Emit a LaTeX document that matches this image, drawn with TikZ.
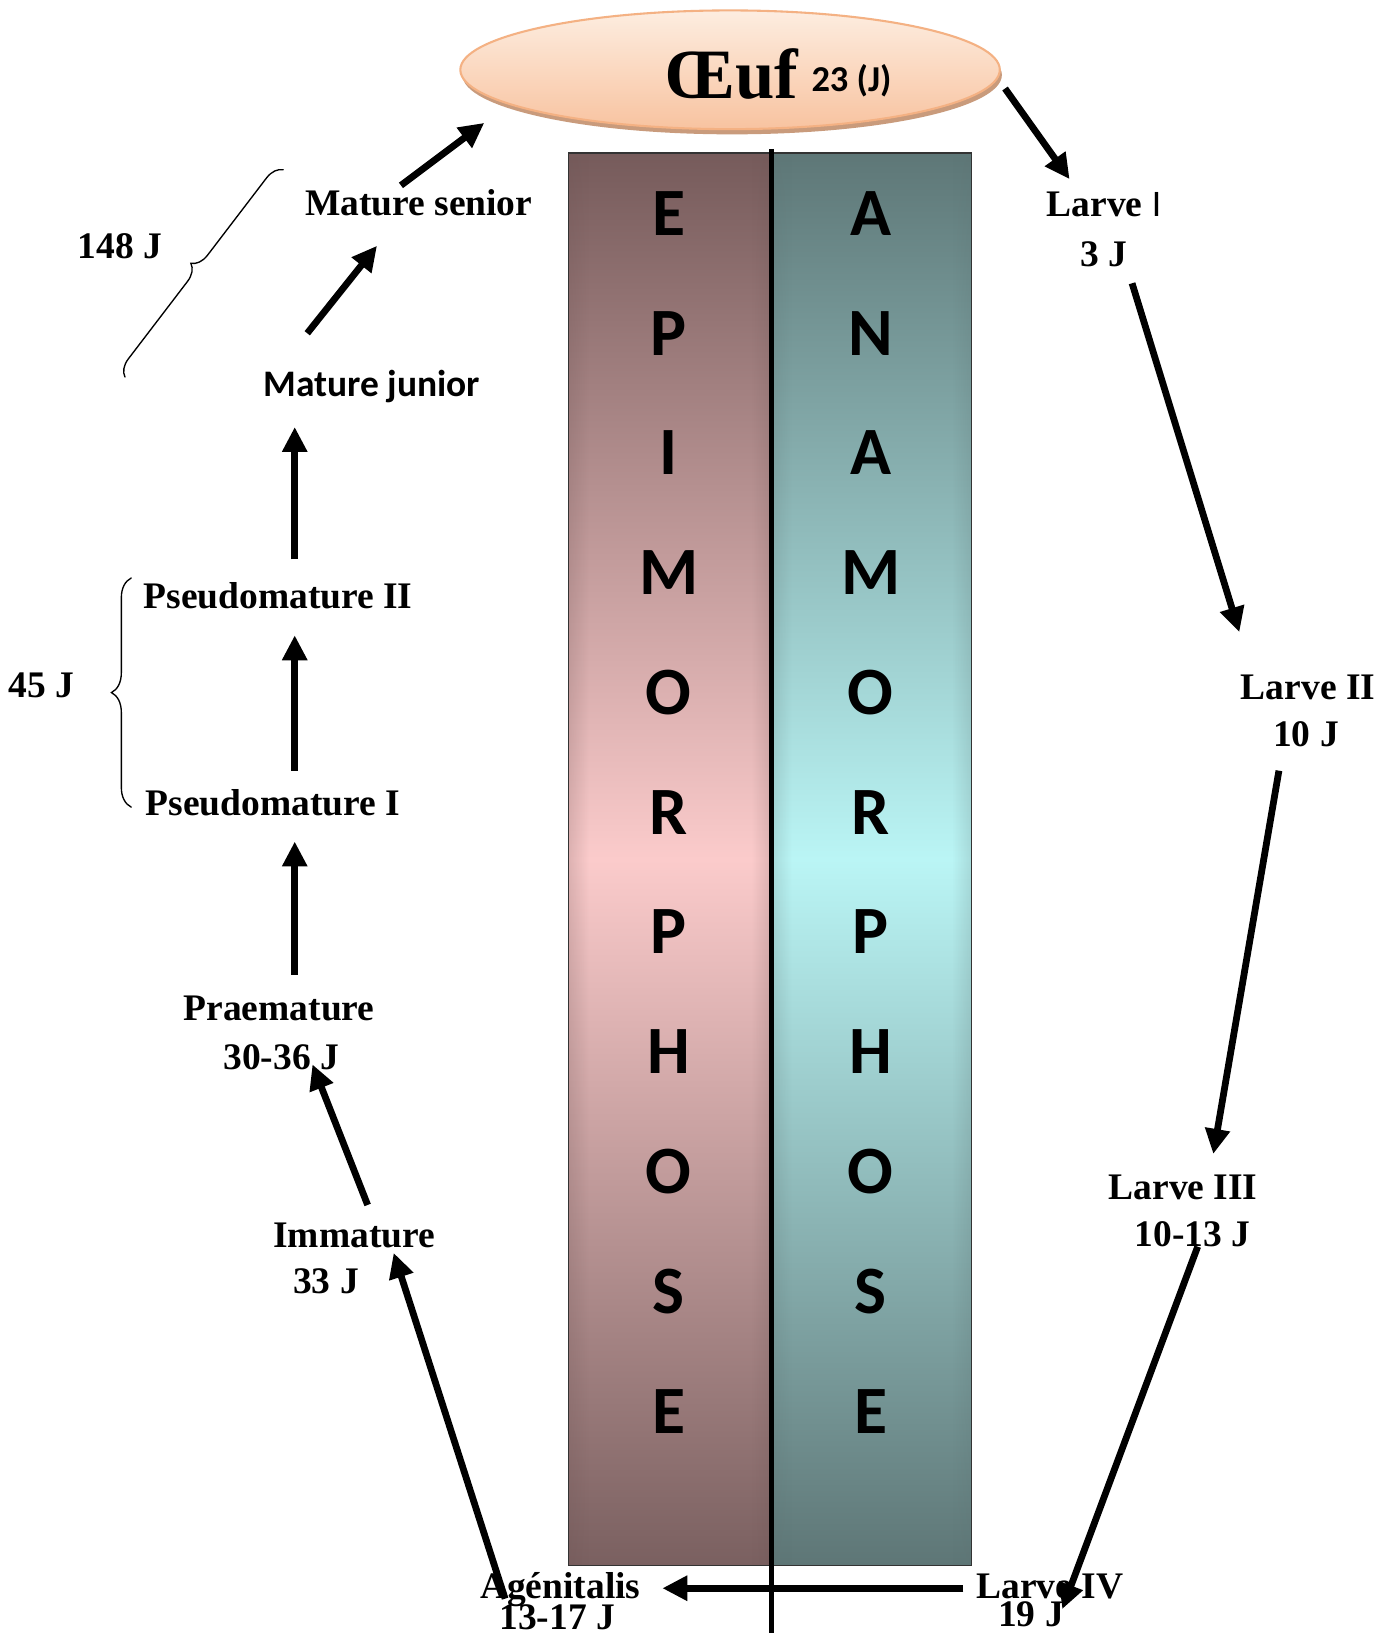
\documentclass[tikz,border=0pt]{standalone}
\usepackage{fontspec}
\setmainfont{Liberation Serif}
\newfontfamily\calfont{Carlito}
\usetikzlibrary{arrows.meta,decorations.pathreplacing,fadings}
\definecolor{eggtop}{HTML}{FDEDE0}
\definecolor{eggbot}{HTML}{F8C3A0}
\definecolor{eggline}{HTML}{F4B183}
\definecolor{eggshadow}{HTML}{C99B7C}
\definecolor{epitop}{HTML}{765B5B}
\definecolor{epimid}{HTML}{FBCBCB}
\definecolor{epibot}{HTML}{7A6060}
\definecolor{episide}{HTML}{6C5353}
\definecolor{anatop}{HTML}{5E7777}
\definecolor{anamid}{HTML}{BAF5F5}
\definecolor{anabot}{HTML}{5E7676}
\definecolor{anaside}{HTML}{5A7171}
\pgfdeclarehorizontalshading{sidefade}{100bp}{color(0bp)=(white); color(12bp)=(white!75!black); color(30bp)=(black); color(70bp)=(black); color(88bp)=(white!75!black); color(100bp)=(white)}
\tikzfading[name=sides, shading=sidefade]
\tikzset{
  lab/.style={font=\fontsize{36}{38}\selectfont\bfseries, inner sep=0pt, anchor=base},
  sanslab/.style={font=\calfont\bfseries\fontsize{36}{38}\selectfont, inner sep=0pt, anchor=base},
  letter/.style={font=\calfont\bfseries\fontsize{65}{65}\selectfont, inner sep=0pt, anchor=base},
  arr/.style={line width=6.5pt, -{Triangle[length=24pt,width=23pt]}},
  bracestyle/.style={decorate, line width=1.3pt, line cap=round},
}
\begin{document}
\begin{tikzpicture}[x=1pt,y=-1pt]
\useasboundingbox (0,0) rectangle (1338,1568);
\fill[white] (0,0) rectangle (1338,1568);

% columns
\shade[top color=epitop, bottom color=epibot, middle color=epimid] (546,147) rectangle (741,1503);
\fill[episide, path fading=sides, fit fading] (546,147) rectangle (741,1503);
\shade[top color=anatop, bottom color=anabot, middle color=anamid] (741,147) rectangle (933,1503);
\fill[anaside, path fading=sides, fit fading] (741,147) rectangle (933,1503);
\draw[line width=1.5pt, black!80] (546,147) rectangle (741,1503);
\draw[line width=1.5pt, black!80] (741,147) rectangle (933,1503);
\coordinate (ltop) at (741,143);
\coordinate (lbot) at (741,1570);
\draw[line width=5pt] (ltop) -- (lbot);

% letters
\foreach \l/\r [count=\i from 0] in {E/A,P/N,I/A,M/M,O/O,R/R,P/P,H/H,O/O,S/S,E/E}{
  \node[letter] (epi\i) at (642,{226+115*\i}) {\l};
  \node[letter] (ana\i) at (836,{226+115*\i}) {\r};
}

% egg
\fill[eggshadow] (703,72) ellipse [x radius=259, y radius=57];
\shade[top color=eggtop, bottom color=eggbot, draw=eggline, line width=2pt] (701,67) ellipse [x radius=259, y radius=57];
\node[font=\fontsize{68}{68}\selectfont\bfseries, inner sep=0pt, anchor=base] (oeuf) at (702,95) {Œuf};
\node[font=\calfont\bfseries\fontsize{35}{35}\selectfont, inner sep=0pt, anchor=base west] (oeufj) at (779,88) {23 (J)};

% left labels
\node[lab] (msen) at (402,207) {Mature senior};
\node[lab] (d148) at (115,248) {148 J};
\node[sanslab] (mjun) at (357,381) {Mature junior};
\node[lab] (ps2) at (267,584) {Pseudomature II};
\node[lab] (d45) at (40,670) {45 J};
\node[lab] (ps1) at (262,783) {Pseudomature I};
\node[lab] (prae) at (268,980) {Praemature};
\node[lab] (praed) at (270,1027) {30-36 J};
\node[lab] (imm) at (340,1198) {Immature};
\node[lab] (immd) at (313,1242) {33 J};
\node[lab] (agen) at (538,1535) {Agénitalis};
\node[lab] (agend) at (535,1565) {13-17 J};

% right labels
\node[lab] (l1) at (1060,208) {Larve {\calfont\mdseries I}};
\node[lab] (l1d) at (1060,256) {3 J};
\node[lab] (l2) at (1256,672) {Larve II};
\node[lab] (l2d) at (1254,717) {10 J};
\node[lab] (l3) at (1136,1152) {Larve III};
\node[lab] (l3d) at (1145,1197) {10-13 J};
\node[lab] (l4) at (1008,1535) {Larve IV};
\node[lab] (l4d) at (990,1562) {19 J};

% braces
\coordinate (b1a) at (120,362);
\coordinate (b1b) at (272,163);
\draw[bracestyle, decoration={brace, amplitude=16pt}] (b1a) -- (b1b);
\coordinate (b2a) at (126,775);
\coordinate (b2b) at (126,555);
\draw[bracestyle, decoration={brace, amplitude=19pt}] (b2a) -- (b2b);

% arrow end points
\coordinate (a1s) at (385,178);  \coordinate (a1e) at (465,118);
\coordinate (a2s) at (295,320);  \coordinate (a2e) at (362,236);
\coordinate (a3s) at (283,537);  \coordinate (a3e) at (283,410);
\coordinate (a4s) at (283,740);  \coordinate (a4e) at (283,610);
\coordinate (a5s) at (283,936);  \coordinate (a5e) at (283,808);
\coordinate (a6s) at (353,1157); \coordinate (a6e) at (300,1022);
\coordinate (a7s) at (485,1535); \coordinate (a7e) at (378,1203);
\coordinate (a8s) at (925,1525); \coordinate (a8e) at (636,1525);
\coordinate (a9s) at (1150,1197); \coordinate (a9e) at (1020,1545);
\coordinate (a10s) at (1228,740); \coordinate (a10e) at (1165,1108);
\coordinate (a11s) at (1087,272); \coordinate (a11e) at (1190,607);
\coordinate (a12s) at (965,85);  \coordinate (a12e) at (1027,172);

\draw[arr] (a1s) -- (a1e);
\draw[arr] (a2s) -- (a2e);
\draw[arr] (a3s) -- (a3e);
\draw[arr] (a4s) -- (a4e);
\draw[arr] (a5s) -- (a5e);
\draw[arr] (a6s) -- (a6e);
\draw[arr] (a7s) -- (a7e);
\draw[arr] (a8s) -- (a8e);
\draw[arr] (a9s) -- (a9e);
\draw[arr] (a10s) -- (a10e);
\draw[arr] (a11s) -- (a11e);
\draw[arr] (a12s) -- (a12e);
\end{tikzpicture}
\end{document}
